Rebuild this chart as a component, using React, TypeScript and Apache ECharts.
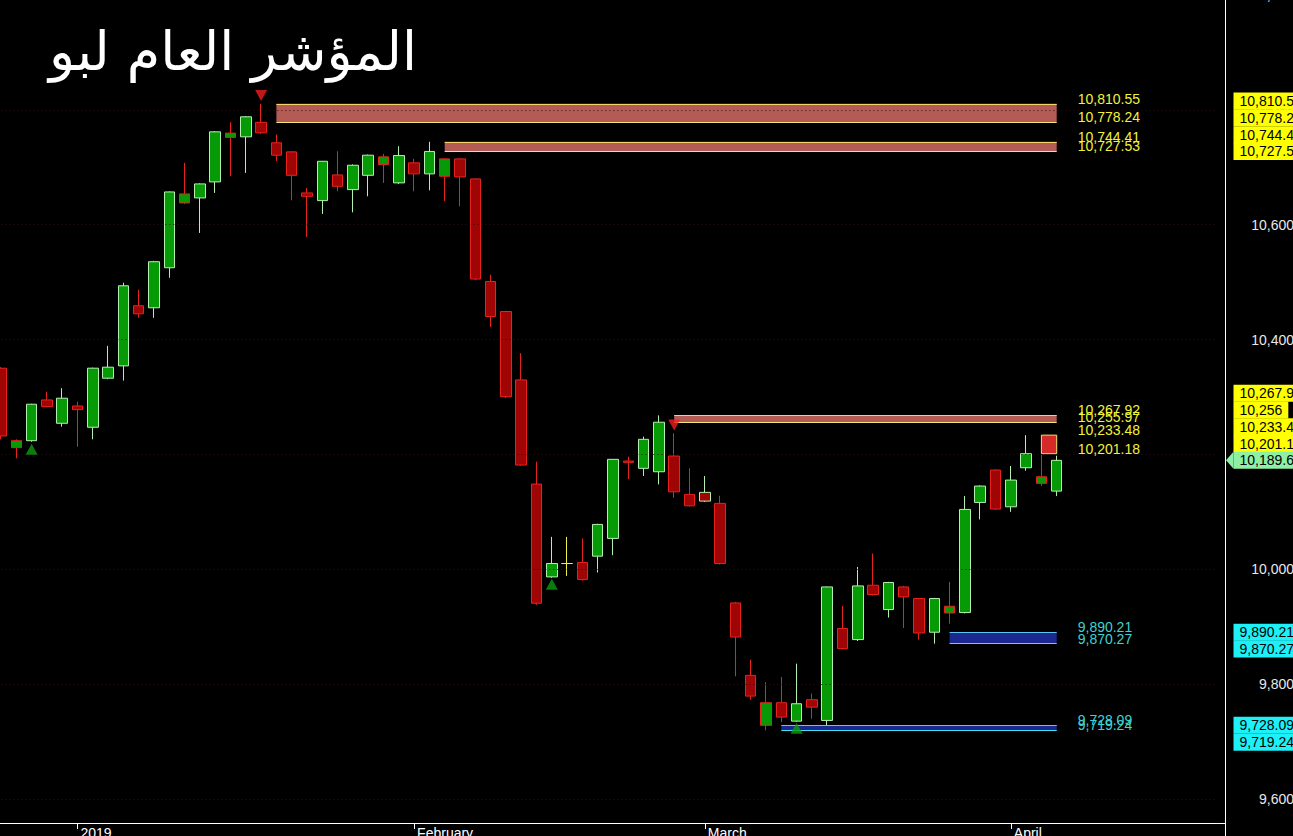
import React, { useEffect, useRef } from 'react';
import * as echarts from 'echarts';

const TITLE = 'المؤشر العام لبو';

// Trading sessions (Sunday–Thursday)
const dates: string[] = [
  '2018-12-25', '2018-12-26', '2018-12-27', '2018-12-30', '2018-12-31',
  '2019-01-02', '2019-01-03', '2019-01-06', '2019-01-07', '2019-01-08', '2019-01-09', '2019-01-10',
  '2019-01-13', '2019-01-14', '2019-01-15', '2019-01-16', '2019-01-17',
  '2019-01-20', '2019-01-21', '2019-01-22', '2019-01-23', '2019-01-24',
  '2019-01-27', '2019-01-28', '2019-01-29', '2019-01-30', '2019-01-31',
  '2019-02-03', '2019-02-04', '2019-02-05', '2019-02-06', '2019-02-07',
  '2019-02-10', '2019-02-11', '2019-02-12', '2019-02-13', '2019-02-14',
  '2019-02-17', '2019-02-18', '2019-02-19', '2019-02-20', '2019-02-21',
  '2019-02-24', '2019-02-25', '2019-02-27', '2019-02-28',
  '2019-03-03', '2019-03-04', '2019-03-05', '2019-03-06', '2019-03-07',
  '2019-03-10', '2019-03-11', '2019-03-12', '2019-03-13', '2019-03-14',
  '2019-03-17', '2019-03-18', '2019-03-19', '2019-03-20', '2019-03-21',
  '2019-03-24', '2019-03-25', '2019-03-26', '2019-03-27', '2019-03-28',
  '2019-04-01', '2019-04-02', '2019-04-03', '2019-04-04',
];

// Daily bars: [open, close, low, high]
const candles: number[][] = [
  [10350.0, 10232.0, 10226.0, 10352.0],
  [10211.6, 10223.8, 10193.1, 10226.2],
  [10223.8, 10287.3, 10222.0, 10288.0],
  [10294.8, 10283.1, 10282.0, 10309.3],
  [10254.1, 10297.8, 10248.2, 10315.2],
  [10284.3, 10277.9, 10213.3, 10291.8],
  [10247.2, 10350.1, 10226.2, 10351.0],
  [10332.6, 10351.8, 10330.9, 10389.0],
  [10354.1, 10493.6, 10328.5, 10498.9],
  [10458.8, 10444.8, 10437.8, 10486.7],
  [10455.3, 10535.5, 10437.8, 10537.0],
  [10525.0, 10657.0, 10507.6, 10658.0],
  [10637.9, 10653.6, 10636.0, 10707.7],
  [10646.6, 10671.0, 10585.6, 10672.0],
  [10674.5, 10761.7, 10655.3, 10763.0],
  [10752.0, 10759.5, 10684.3, 10778.5],
  [10753.0, 10787.9, 10690.2, 10789.0],
  [10778.24, 10760.0, 10758.0, 10810.55],
  [10742.6, 10721.0, 10710.4, 10757.0],
  [10726.8, 10686.0, 10642.4, 10728.0],
  [10655.3, 10649.4, 10578.6, 10664.0],
  [10641.9, 10710.4, 10618.7, 10711.0],
  [10686.7, 10666.8, 10658.1, 10727.9],
  [10661.1, 10703.5, 10621.5, 10705.0],
  [10686.0, 10721.0, 10649.4, 10722.0],
  [10704.7, 10718.1, 10672.8, 10723.4],
  [10672.8, 10720.4, 10671.0, 10736.6],
  [10707.7, 10688.5, 10658.1, 10714.6],
  [10688.5, 10727.53, 10659.8, 10744.41],
  [10684.3, 10714.6, 10640.7, 10716.0],
  [10714.6, 10683.2, 10632.0, 10716.0],
  [10679.7, 10505.3, 10503.0, 10681.0],
  [10501.1, 10440.1, 10421.6, 10512.8],
  [10448.8, 10300.5, 10298.0, 10450.0],
  [10329.7, 10181.4, 10180.0, 10376.2],
  [10148.3, 9940.7, 9938.0, 10187.2],
  [9986.6, 10009.9, 9985.0, 10056.3],
  [10009.9, 10009.9, 9988.3, 10056.3],
  [10011.7, 9982.0, 9980.0, 10053.6],
  [10022.7, 10078.0, 9994.2, 10079.0],
  [10053.6, 10191.3, 10024.4, 10192.0],
  [10188.4, 10186.1, 10157.0, 10195.9],
  [10175.6, 10226.2, 10162.2, 10230.8],
  [10169.7, 10255.97, 10147.7, 10267.92],
  [10197.1, 10134.8, 10124.4, 10236.7],
  [10130.3, 10110.4, 10109.0, 10175.6],
  [10133.8, 10118.6, 10117.0, 10162.2],
  [10114.6, 10009.9, 10008.0, 10127.9],
  [9941.2, 9881.9, 9813.4, 9943.0],
  [9815.1, 9779.0, 9772.7, 9842.5],
  [9728.09, 9767.5, 9719.24, 9803.4],
  [9767.5, 9742.4, 9733.6, 9812.1],
  [9735.4, 9765.7, 9734.0, 9835.5],
  [9772.7, 9759.8, 9739.6, 9783.2],
  [9736.6, 9969.1, 9727.9, 9970.0],
  [9896.6, 9861.7, 9860.0, 9936.0],
  [9877.4, 9970.9, 9874.9, 10004.0],
  [9972.1, 9955.9, 9954.0, 10027.4],
  [9929.7, 9976.8, 9915.7, 9978.0],
  [9969.1, 9951.7, 9897.6, 9971.0],
  [9948.9, 9888.9, 9877.4, 9950.0],
  [9890.21, 9948.9, 9870.27, 9950.0],
  [9923.8, 9935.5, 9905.3, 9977.8],
  [9924.5, 10104.1, 9923.0, 10127.3],
  [10116.3, 10144.8, 10086.7, 10146.0],
  [10172.7, 10104.7, 10103.0, 10174.0],
  [10108.7, 10155.2, 10099.9, 10179.7],
  [10176.7, 10201.18, 10171.5, 10233.48],
  [10149.5, 10161.0, 10144.8, 10198.9],
  [10136.0, 10189.6, 10127.3, 10197.6],
];

// Reversal signals: [session index, marker price]
const buySignals: number[][] = [[2, 10209], [36, 9974], [52, 9723]];
const sellSignals: number[][] = [[17, 10825], [44, 10251]];

// Supply (red) and demand (blue) zones: first session, upper and lower edge
const supplyZones = [
  { start: 18, top: 10810.55, bottom: 10778.24 },
  { start: 29, top: 10744.41, bottom: 10727.53 },
  { start: 44, top: 10267.92, bottom: 10255.97 },
];
const freshSupplyZones = [{ start: 68, top: 10233.48, bottom: 10201.18 }];
const demandZones = [
  { start: 62, top: 9890.21, bottom: 9870.27 },
  { start: 51, top: 9728.09, bottom: 9719.24 },
];

// Price tags on the right scale
const resistanceTags = [10810.55, 10778.24, 10744.41, 10727.53, 10267.92, 10256, 10233.48, 10201.18];
const supportTags = [9890.21, 9870.27, 9728.09, 9719.24];

const yTicks = [9600, 9800, 10000, 10200, 10400, 10600, 10800, 11000];
const MONTHS = ['January', 'February', 'March', 'April', 'May', 'June', 'July', 'August', 'September', 'October', 'November', 'December'];

const FONT = '"Liberation Sans", Arial, sans-serif';
const BULL_FILL = '#079a07';
const BEAR_FILL = '#a00505';
const UP_EDGE = '#b2f0b0';
const DOWN_EDGE = '#e8221c';
const FLAT = '#f0f040';

const GRID_LEFT = -6.65;
const GRID_RIGHT = 75.65;
const AXIS_OFFSET = 7.65;
const TOTAL_SLOTS = 80;

function candleStyle(i: number) {
  const [o, c] = candles[i];
  const prev = i > 0 ? candles[i - 1][1] : o;
  let fill = c > o ? BULL_FILL : BEAR_FILL;
  let edge = c > prev ? UP_EDGE : DOWN_EDGE;
  if (c === prev) {
    fill = FLAT;
    edge = FLAT;
  }
  return { color: fill, color0: fill, borderColor: edge, borderColor0: edge, borderColorDoji: edge, borderWidth: 1 };
}

const monthStarts = new Set<number>();
dates.forEach((d, i) => {
  if (i > 0 && d.slice(0, 7) !== dates[i - 1].slice(0, 7)) monthStarts.add(i);
});

const fmtTag = (v: number) => v.toLocaleString('en-US', { maximumFractionDigits: 2 });
const fmtZone = (v: number) => v.toLocaleString('en-US', { minimumFractionDigits: 2, maximumFractionDigits: 2 });

export default function App() {
  const ref = useRef<HTMLDivElement>(null);

  useEffect(() => {
    const chart = echarts.init(ref.current!, null, { renderer: 'svg' });
    const LAST = candles.length - 1;

    const area = (z: { start: number; top: number; bottom: number }, itemStyle: any) => [
      { coord: [dates[z.start], z.top], itemStyle },
      { coord: [dates[LAST], z.bottom] },
    ];
    const edge = (start: number, v: number, color: string) => [
      { coord: [dates[start], v], lineStyle: { color, width: 1, type: 'solid' } },
      { coord: [dates[LAST], v] },
    ];

    const markAreas = [
      ...supplyZones.map((z) => area(z, { color: '#b55b56' })),
      ...freshSupplyZones.map((z) => area(z, { color: '#d42a2a', borderColor: '#f2e06a', borderWidth: 1 })),
      ...demandZones.map((z) => area(z, { color: '#1b2890' })),
    ];
    const markLines: any[] = [
      ...yTicks.filter((v) => v < 11000).map((v) => ({
        yAxis: v,
        lineStyle: { color: '#3a0c0c', type: [1, 3], width: 1 },
      })),
      ...supplyZones.flatMap((z) => [edge(z.start, z.top, '#f5d46c'), edge(z.start, z.bottom, '#f4e47e')]),
      ...demandZones.flatMap((z) => [edge(z.start, z.top, '#5ec6f2'), edge(z.start, z.bottom, '#40e0f5')]),
    ];

    chart.setOption({
      animation: false,
      backgroundColor: '#000000',
      title: {
        text: TITLE,
        left: 44,
        top: 19,
        textStyle: { color: '#ffffff', fontSize: 54, fontWeight: 'normal', fontFamily: '"DejaVu Sans", sans-serif' },
      },
      grid: { left: GRID_LEFT, right: GRID_RIGHT, top: -5, bottom: 13, outerBoundsMode: 'none', containLabel: false },
      xAxis: {
        type: 'category',
        data: dates,
        max: TOTAL_SLOTS - 1,
        boundaryGap: true,
        axisLine: { show: true, lineStyle: { color: '#ffffff', width: 1 } },
        axisTick: {
          show: true,
          alignWithLabel: true,
          interval: (i: number) => monthStarts.has(i),
          length: 6,
          lineStyle: { color: '#ffffff' },
        },
        axisLabel: {
          show: true,
          interval: (i: number) => monthStarts.has(i),
          formatter: (value: string) => {
            const m = Number(value.slice(5, 7)) - 1;
            return m === 0 ? value.slice(0, 4) : MONTHS[m];
          },
          align: 'left',
          padding: [0, 0, 0, 3],
          margin: 3,
          color: '#ffffff',
          fontSize: 14,
          fontFamily: FONT,
        },
        splitLine: { show: false },
      },
      yAxis: {
        type: 'value',
        position: 'right',
        min: 9558,
        max: 11000,
        offset: AXIS_OFFSET,
        axisLine: { show: true, lineStyle: { color: '#ffffff', width: 1 } },
        axisTick: { show: false, customValues: yTicks },
        axisLabel: {
          customValues: yTicks,
          align: 'right',
          margin: 69,
          color: '#e8e8e8',
          fontSize: 14,
          fontFamily: FONT,
          formatter: (v: number) => v.toLocaleString('en-US'),
        },
        splitLine: { show: false },
      },
      series: [
        {
          type: 'candlestick',
          barWidth: 11,
          data: candles.map((c, i) => ({ value: c, itemStyle: candleStyle(i) })),
          markArea: { silent: true, data: markAreas },
          markLine: { silent: true, symbol: ['none', 'none'], label: { show: false }, data: markLines },
        },
        {
          type: 'scatter',
          symbol: 'triangle',
          symbolSize: [12, 11],
          itemStyle: { color: '#0c9c0c' },
          data: buySignals.map(([i, v]) => [dates[i], v]),
          z: 5,
        },
        {
          type: 'scatter',
          symbol: 'triangle',
          symbolRotate: 180,
          symbolSize: [12, 11],
          itemStyle: { color: '#f01e1e' },
          data: sellSignals.map(([i, v]) => [dates[i], v]),
          z: 5,
        },
      ],
    });

    // Overlay texts and price tags, placed through the axis scales
    const py = (v: number) => chart.convertToPixel({ yAxisIndex: 0 }, v) as number;
    const px = (i: number) => chart.convertToPixel({ xAxisIndex: 0 }, dates[i]) as number;
    const axisX = chart.getWidth() - GRID_RIGHT + AXIS_OFFSET;
    const bottomY = chart.getHeight() - 13;
    const labelX = px(LAST) + 21;
    const elements: any[] = [];

    const zoneLabel = (v: number, color: string) => ({
      type: 'text',
      x: labelX,
      y: py(v) - 5,
      z: 20,
      style: { text: fmtZone(v), fill: color, font: `14px ${FONT}`, align: 'left', verticalAlign: 'middle' },
    });
    [...supplyZones, ...freshSupplyZones].forEach((z) => {
      elements.push(zoneLabel(z.top, '#f2f23c'), zoneLabel(z.bottom, '#f2f23c'));
    });
    demandZones.forEach((z) => {
      elements.push(zoneLabel(z.top, '#3ed2d2'), zoneLabel(z.bottom, '#3ed2d2'));
    });

    // Stack the tags away from the last price so that they do not overlap
    const ROW = 16.8;
    const lastClose = candles[LAST][1];
    const lastY = py(lastClose);
    const tagX = axisX + 8.5;
    const tag = (v: number, y: number, bg: string) => ({
      type: 'text',
      x: tagX,
      y,
      z: 30,
      style: {
        text: fmtTag(v),
        fill: '#000000',
        font: `14px ${FONT}`,
        align: 'left',
        verticalAlign: 'middle',
        backgroundColor: bg,
        padding: [2, 6, 1, 6],
      },
    });
    let prevY = lastY;
    [...resistanceTags].sort((a, b) => a - b).forEach((v) => {
      const y = Math.min(py(v), prevY - ROW);
      elements.push(tag(v, y, '#ffff00'));
      prevY = y;
    });
    prevY = lastY;
    [...supportTags].sort((a, b) => b - a).forEach((v) => {
      const y = Math.max(py(v), prevY + ROW);
      elements.push(tag(v, y, '#1ef0f8'));
      prevY = y;
    });
    elements.push({
      type: 'polygon',
      z: 30,
      shape: { points: [[axisX + 1, lastY], [tagX, lastY - 8.5], [tagX, lastY + 8.5]] },
      style: { fill: '#8ef0a4' },
    });
    elements.push(tag(lastClose, lastY, '#8ef0a4'));

    // Frame corner: carry the axis lines to the edge
    elements.push({
      type: 'line',
      z: 10,
      shape: { x1: axisX - AXIS_OFFSET, y1: bottomY + 0.5, x2: axisX, y2: bottomY + 0.5 },
      style: { stroke: '#ffffff', lineWidth: 1 },
    });
    elements.push({
      type: 'line',
      z: 10,
      shape: { x1: axisX + 0.5, y1: bottomY, x2: axisX + 0.5, y2: chart.getHeight() },
      style: { stroke: '#ffffff', lineWidth: 1 },
    });

    chart.setOption({ graphic: elements });

    return () => chart.dispose();
  }, []);

  return (
    <div
      ref={ref}
      style={{ position: 'absolute', left: 0, top: 0, width: 1293, height: 836, background: '#000000' }}
    />
  );
}
